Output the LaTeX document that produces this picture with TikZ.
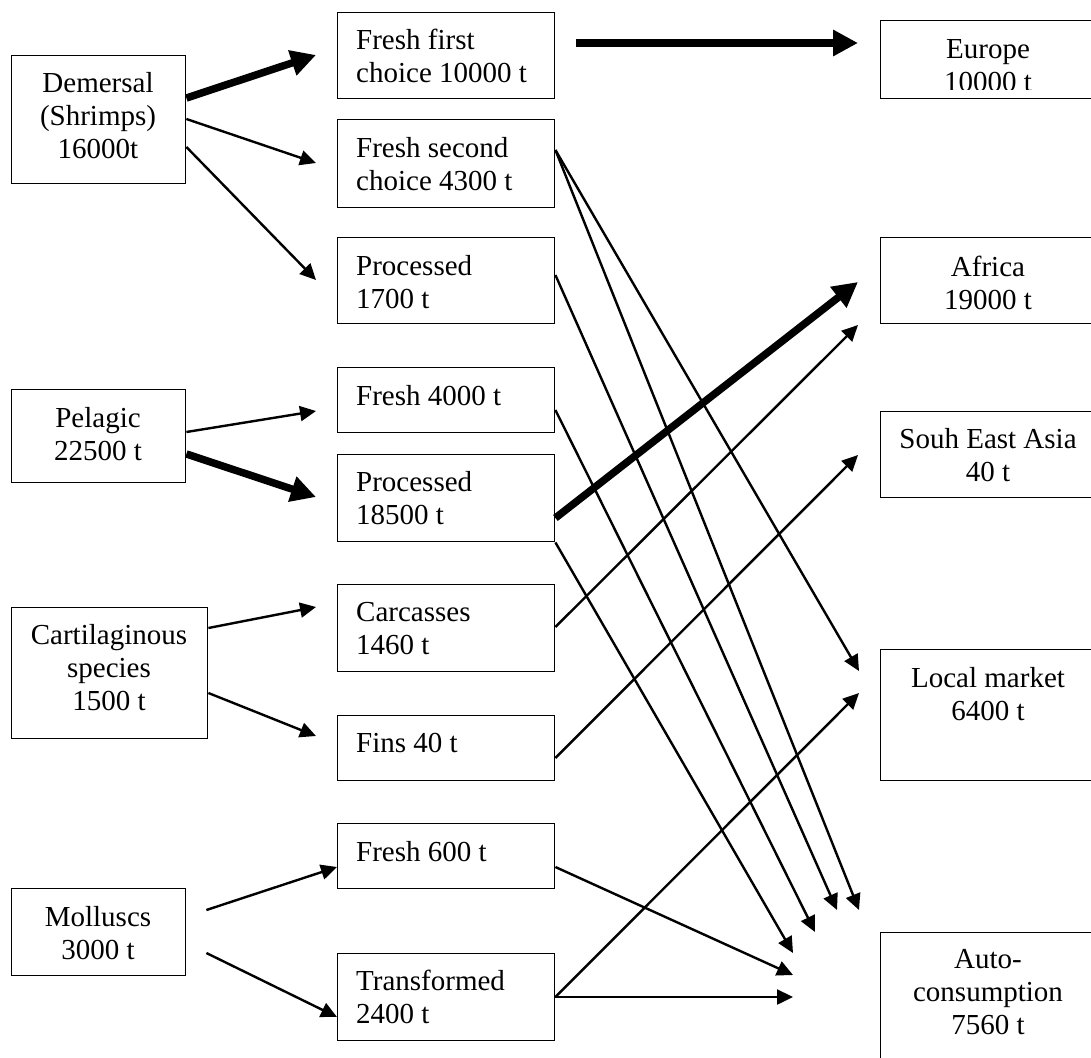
\documentclass[tikz,border=0pt]{standalone}
\usepackage{fontspec}
\setmainfont{Liberation Serif}
\usetikzlibrary{arrows.meta}
\tikzset{
  box/.style={draw, line width=1.4pt, rectangle, inner sep=0pt, anchor=north west},
  lbl/.style={inner sep=0pt, font=\fontsize{29}{33}\selectfont},
  flow/.style={line width=2.4pt, -{Triangle[length=16pt,width=15pt]}},
  bigflow/.style={line width=7.5pt, -{Triangle[length=25pt,width=25pt]}},
}
\begin{document}
\begin{tikzpicture}[x=1pt, y=-1pt]
\useasboundingbox (0,0) rectangle (1091,1057);
% left column
\node[box, minimum width=174pt, minimum height=128pt] (dem) at (11,55) {};
\node[box, minimum width=174pt, minimum height=93pt] (pel) at (11,389) {};
\node[box, minimum width=196pt, minimum height=131pt] (car) at (11,607) {};
\node[box, minimum width=174pt, minimum height=87pt] (mol) at (11,888) {};
% middle column
\node[box, minimum width=217pt, minimum height=86pt] (ffc) at (337,12) {};
\node[box, minimum width=217pt, minimum height=88pt] (fsc) at (337,119) {};
\node[box, minimum width=217pt, minimum height=86pt] (pr1) at (337,237) {};
\node[box, minimum width=217pt, minimum height=65pt] (fr4) at (337,367) {};
\node[box, minimum width=217pt, minimum height=87pt] (pr2) at (337,454) {};
\node[box, minimum width=217pt, minimum height=87pt] (cc) at (337,584) {};
\node[box, minimum width=217pt, minimum height=65pt] (fins) at (337,715) {};
\node[box, minimum width=217pt, minimum height=65pt] (fr6) at (337,823) {};
\node[box, minimum width=217pt, minimum height=87pt] (tr) at (337,953) {};
% right column
\node[box, minimum width=220pt, minimum height=78pt] (eu) at (880,20) {};
\node[box, minimum width=220pt, minimum height=86pt] (af) at (880,237) {};
\node[box, minimum width=220pt, minimum height=86pt] (sea) at (880,411) {};
\node[box, minimum width=220pt, minimum height=131pt] (lm) at (880,649) {};
\node[box, minimum width=220pt, minimum height=140pt] (ac) at (880,932) {};
% texts
\node[lbl, align=center] (dem-t) at (98,116) {Demersal\\(Shrimps)\\16000t};
\node[lbl, align=center] (pel-t) at (98,434) {Pelagic\\22500 t};
\node[lbl, align=center] (car-t) at (109,668) {Cartilaginous\\species\\1500 t};
\node[lbl, align=center] (mol-t) at (98,933.5) {Molluscs\\3000 t};
\node[lbl, align=left, anchor=west] (ffc-t) at (356,55.5) {Fresh first\\choice 10000 t};
\node[lbl, align=left, anchor=west] (fsc-t) at (356,164.5) {Fresh second\\choice 4300 t};
\node[lbl, align=left, anchor=west] (pr1-t) at (356,282.5) {Processed\\1700 t};
\node[lbl, align=left, anchor=west] (fr4-t) at (356,396) {Fresh 4000 t};
\node[lbl, align=left, anchor=west] (pr2-t) at (356,498.5) {Processed\\18500 t};
\node[lbl, align=left, anchor=west] (cc-t) at (356,629) {Carcasses\\1460 t};
\node[lbl, align=left, anchor=west] (fins-t) at (356,743) {Fins 40 t};
\node[lbl, align=left, anchor=west] (fr6-t) at (356,852) {Fresh 600 t};
\node[lbl, align=left, anchor=west] (tr-t) at (356,996.5) {Transformed\\2400 t};
\begin{scope}
\clip (880,20) rectangle (1100,89);
\node[lbl, align=center] (eu-t) at (988,66) {Europe\\10000 t};
\end{scope}
\node[lbl, align=center] (af-t) at (988,282.5) {Africa\\19000 t};
\node[lbl, align=center] (sea-t) at (988,455) {Souh East Asia\\40 t};
\node[lbl, align=center] (lm-t) at (988,694.5) {Local market\\6400 t};
\node[lbl, align=center] (ac-t) at (988,992.5) {Auto-\\consumption\\7560 t};
% connectors: sources to products
\draw[bigflow] ([yshift=-43pt]dem.north east) -- ([xshift=-21pt,yshift=-43pt]ffc.north west);
\draw[flow] ([yshift=-64pt]dem.north east) -- ([xshift=-21pt,yshift=-44pt]fsc.north west);
\draw[flow] ([yshift=-92pt]dem.north east) -- ([xshift=-21pt,yshift=-43pt]pr1.north west);
\draw[flow] ([yshift=-43pt]pel.north east) -- ([xshift=-21pt,yshift=-44pt]fr4.north west);
\draw[bigflow] ([yshift=-65pt]pel.north east) -- ([xshift=-21pt,yshift=-43pt]pr2.north west);
\draw[flow] ([yshift=-21pt]car.north east) -- ([xshift=-21pt,yshift=-23pt]cc.north west);
\draw[flow] ([yshift=-86pt]car.north east) -- ([xshift=-21pt,yshift=-21pt]fins.north west);
\draw[flow] ([xshift=20pt,yshift=-22pt]mol.north east) -- ([yshift=-44pt]fr6.north west);
\draw[flow] ([xshift=20pt,yshift=-65pt]mol.north east) -- ([yshift=-64pt]tr.north west);
% connectors: products to markets
\draw[bigflow] ([xshift=21pt,yshift=-31pt]ffc.north east) -- ([xshift=-22pt,yshift=-23pt]eu.north west);
\draw[flow] ([yshift=-31pt]fsc.north east) -- ([xshift=-21pt,yshift=-22pt]lm.north west);
\draw[flow] ([yshift=-31pt]fsc.north east) -- ([xshift=-21pt,yshift=22pt]ac.north west);
\draw[flow] ([yshift=-38pt]pr1.north east) -- ([xshift=-43pt,yshift=22pt]ac.north west);
\draw[flow] ([yshift=-43pt]fr4.north east) -- ([xshift=-65pt]ac.north west);
\draw[bigflow] ([yshift=-64pt]pr2.north east) -- ([xshift=-22pt,yshift=-45pt]af.north west);
\draw[flow] (pr2.south east) -- ([xshift=-87pt,yshift=-21pt]ac.north west);
\draw[flow] ([yshift=-43pt]cc.north east) -- ([xshift=-22pt,yshift=-88pt]af.north west);
\draw[flow] ([yshift=-43pt]fins.north east) -- ([xshift=-22pt,yshift=-44pt]sea.north west);
\draw[flow] ([yshift=-44pt]fr6.north east) -- ([xshift=-87pt,yshift=-43pt]ac.north west);
\draw[flow] ([yshift=-44pt]tr.north east) -- ([xshift=-21pt,yshift=-44pt]lm.north west);
\draw[flow] ([yshift=-44pt]tr.north east) -- ([xshift=-87pt,yshift=-65pt]ac.north west);
\end{tikzpicture}
\end{document}
